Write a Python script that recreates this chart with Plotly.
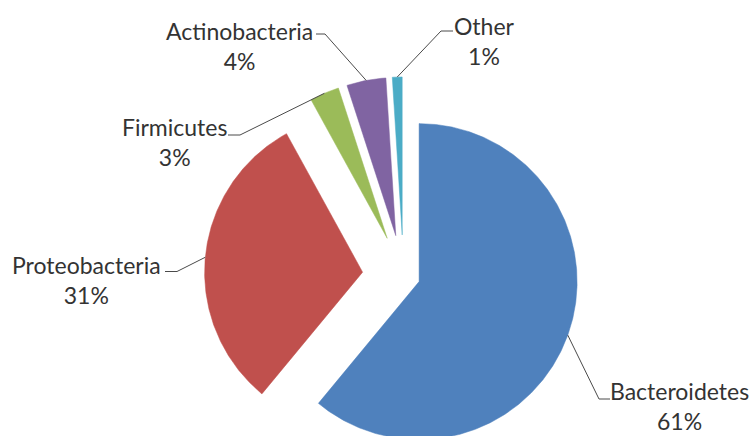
import numpy as np
import plotly.graph_objects as go

# Phylum composition (percent of sequences)
CATEGORIES = ["Bacteroidetes", "Proteobacteria", "Firmicutes", "Actinobacteria", "Other"]
SHARES = [61, 31, 3, 4, 1]

# Styling: Office-style palette and per-slice explosion (fraction of radius)
COLORS = ["#4F81BD", "#C0504D", "#9BBB59", "#8064A2", "#4BACC6"]
PULL = [0.105, 0.26, 0.26, 0.26, 0.26]

# Canvas geometry (pixels): pie centre and radius
W, H = 752, 436
CX_PX, CY_PX, R_PX = 403.5, 276.0, 158.0

# Label placement (pixels): block centre, leader elbow, leader end at text
LABEL_LAYOUT = {
    "Bacteroidetes":  dict(center=(679, 406), elbow=(599, 399), end=(610, 399)),
    "Proteobacteria": dict(center=(86.5, 280), elbow=(177, 271.5), end=(165, 271.5)),
    "Firmicutes":     dict(center=(174, 141.5), elbow=(240, 135), end=(228, 135)),
    "Actinobacteria": dict(center=(239, 46), elbow=(325, 34), end=(316, 34)),
    "Other":          dict(center=(484, 40.5), elbow=(441, 31), end=(453, 31)),
}

FONT = dict(family="Lato, 'Liberation Sans', sans-serif", size=23, color="#333333")


def to_unit(px, py):
    """Convert a pixel position into pie-radius units (y up)."""
    return (px - CX_PX) / R_PX, (CY_PX - py) / R_PX


fig = go.Figure()

total = float(sum(SHARES))
fractions = np.array(SHARES, dtype=float) / total
bounds = np.concatenate([[0.0], np.cumsum(fractions)]) * 2 * np.pi  # clockwise from 12 o'clock

annotations = []
for i, name in enumerate(CATEGORIES):
    a0, a1 = bounds[i], bounds[i + 1]
    mid = 0.5 * (a0 + a1)
    ox, oy = PULL[i] * np.sin(mid), PULL[i] * np.cos(mid)

    n = max(8, int(np.degrees(a1 - a0) * 2))
    theta = np.linspace(a0, a1, n)
    xs = np.concatenate([[0.0], np.sin(theta), [0.0]]) + ox
    ys = np.concatenate([[0.0], np.cos(theta), [0.0]]) + oy

    fig.add_trace(go.Scatter(
        x=xs, y=ys, mode="lines", fill="toself",
        fillcolor=COLORS[i], line=dict(color=COLORS[i], width=0.5),
        hoverinfo="text", text=f"{name}: {SHARES[i]}%", showlegend=False,
    ))

    # leader line: slice arc midpoint -> elbow -> text
    lay = LABEL_LAYOUT[name]
    sx, sy = (1 + PULL[i]) * np.sin(mid), (1 + PULL[i]) * np.cos(mid)
    ex, ey = to_unit(*lay["elbow"])
    tx, ty = to_unit(*lay["end"])
    fig.add_trace(go.Scatter(
        x=[sx, ex, tx], y=[sy, ey, ty], mode="lines",
        line=dict(color="#4a4a4a", width=1), hoverinfo="skip", showlegend=False,
    ))

    lx, ly = to_unit(*lay["center"])
    pct = int(round(SHARES[i] / total * 100))
    annotations.append(dict(
        x=lx, y=ly, xref="x", yref="y", text=f"{name}<br>{pct}%",
        showarrow=False, xanchor="center", yanchor="middle", align="center",
        font=FONT,
    ))

x0, _ = to_unit(0, 0)
x1, _ = to_unit(W, 0)
_, y_top = to_unit(0, 0)
_, y_bot = to_unit(0, H)

fig.update_layout(
    width=W, height=H,
    margin=dict(l=0, r=0, t=0, b=0),
    paper_bgcolor="white", plot_bgcolor="white",
    xaxis=dict(visible=False, range=[x0, x1], fixedrange=True),
    yaxis=dict(visible=False, range=[y_bot, y_top], fixedrange=True),
    annotations=annotations,
    showlegend=False,
)

fig.write_html("out.html")
